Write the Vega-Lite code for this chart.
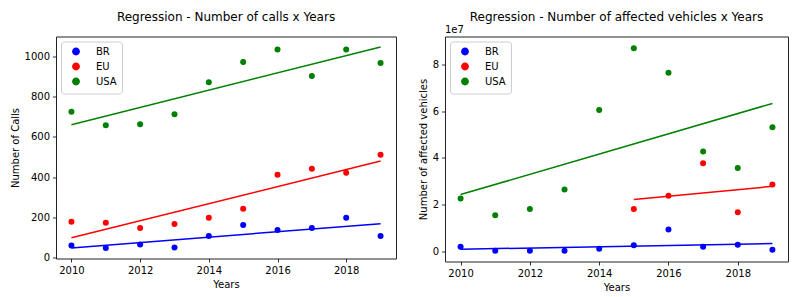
{
  "$schema": "https://vega.github.io/schema/vega-lite/v6.json",
  "padding": {"left": 9, "top": 9.5, "right": 5, "bottom": 5},
  "background": "white",
  "config": {
    "font": "DejaVu Sans",
    "view": {"stroke": "#222", "strokeWidth": 1},
    "title": {"font": "DejaVu Sans", "fontSize": 12, "fontWeight": "normal", "color": "#000", "frame": "group", "anchor": "middle"},
    "axis": {"domain": false, "grid": false, "tickColor": "#000", "tickSize": 3.5, "tickWidth": 0.8, "labelFont": "DejaVu Sans", "labelFontSize": 10, "labelColor": "#000", "titleFont": "DejaVu Sans", "titleFontSize": 10, "titleFontWeight": "normal", "titleColor": "#000", "labelPadding": 3, "titlePadding": 4},
    "legend": {"orient": "top-left", "offset": 5, "padding": 5, "symbolOffset": 5, "strokeColor": "#ccc", "fillColor": "rgba(255,255,255,0.8)", "cornerRadius": 3, "labelFont": "DejaVu Sans", "labelFontSize": 10, "labelColor": "#000", "symbolSize": 40, "symbolType": "circle", "labelOffset": 15, "rowPadding": 1}
  },
  "datasets": {
    "calls": [
      {"year": 2010, "country": "BR", "value": 60},
      {"year": 2011, "country": "BR", "value": 47},
      {"year": 2012, "country": "BR", "value": 65},
      {"year": 2013, "country": "BR", "value": 50},
      {"year": 2014, "country": "BR", "value": 107},
      {"year": 2015, "country": "BR", "value": 162},
      {"year": 2016, "country": "BR", "value": 137},
      {"year": 2017, "country": "BR", "value": 147},
      {"year": 2018, "country": "BR", "value": 198},
      {"year": 2019, "country": "BR", "value": 107},
      {"year": 2010, "country": "EU", "value": 178},
      {"year": 2011, "country": "EU", "value": 173},
      {"year": 2012, "country": "EU", "value": 147},
      {"year": 2013, "country": "EU", "value": 167},
      {"year": 2014, "country": "EU", "value": 198},
      {"year": 2015, "country": "EU", "value": 243},
      {"year": 2016, "country": "EU", "value": 412},
      {"year": 2017, "country": "EU", "value": 442},
      {"year": 2018, "country": "EU", "value": 422},
      {"year": 2019, "country": "EU", "value": 512},
      {"year": 2010, "country": "USA", "value": 725},
      {"year": 2011, "country": "USA", "value": 658},
      {"year": 2012, "country": "USA", "value": 663},
      {"year": 2013, "country": "USA", "value": 713},
      {"year": 2014, "country": "USA", "value": 872},
      {"year": 2015, "country": "USA", "value": 973},
      {"year": 2016, "country": "USA", "value": 1035},
      {"year": 2017, "country": "USA", "value": 903},
      {"year": 2018, "country": "USA", "value": 1035},
      {"year": 2019, "country": "USA", "value": 968}
    ],
    "vehicles": [
      {"year": 2010, "country": "BR", "value": 2100000},
      {"year": 2011, "country": "BR", "value": 400000},
      {"year": 2012, "country": "BR", "value": 400000},
      {"year": 2013, "country": "BR", "value": 400000},
      {"year": 2014, "country": "BR", "value": 1300000},
      {"year": 2015, "country": "BR", "value": 2800000},
      {"year": 2016, "country": "BR", "value": 9500000},
      {"year": 2017, "country": "BR", "value": 2100000},
      {"year": 2018, "country": "BR", "value": 3000000},
      {"year": 2019, "country": "BR", "value": 900000},
      {"year": 2015, "country": "EU", "value": 18200000},
      {"year": 2016, "country": "EU", "value": 23900000},
      {"year": 2017, "country": "EU", "value": 37800000},
      {"year": 2018, "country": "EU", "value": 16900000},
      {"year": 2019, "country": "EU", "value": 28700000},
      {"year": 2010, "country": "USA", "value": 22700000},
      {"year": 2011, "country": "USA", "value": 15600000},
      {"year": 2012, "country": "USA", "value": 18200000},
      {"year": 2013, "country": "USA", "value": 26600000},
      {"year": 2014, "country": "USA", "value": 60500000},
      {"year": 2015, "country": "USA", "value": 86800000},
      {"year": 2016, "country": "USA", "value": 76300000},
      {"year": 2017, "country": "USA", "value": 42800000},
      {"year": 2018, "country": "USA", "value": 35700000},
      {"year": 2019, "country": "USA", "value": 53100000}
    ]
  },
  "resolve": {"scale": {"color": "independent"}, "legend": {"color": "independent"}},
  "spacing": 20,
  "hconcat": [
    {
      "title": {"text": "Regression - Number of calls x Years", "offset": 13},
      "width": 340,
      "height": 222,
      "data": {"name": "calls"},
      "layer": [
        {
          "mark": {"type": "point", "filled": true, "size": 36, "opacity": 1},
          "encoding": {
            "x": {"field": "year", "type": "quantitative", "scale": {"domain": [2009.55, 2019.45], "nice": false, "zero": false}, "axis": {"values": [2010, 2012, 2014, 2016, 2018], "format": "d", "title": "Years"}},
            "y": {"field": "value", "type": "quantitative", "scale": {"domain": [-5, 1100], "nice": false, "zero": false}, "axis": {"values": [0, 200, 400, 600, 800, 1000], "format": "d", "title": "Number of Calls"}},
            "color": {"field": "country", "type": "nominal", "scale": {"domain": ["BR", "EU", "USA"], "range": ["#0000ff", "#ff0000", "#008000"]}, "legend": {"title": null}}
          }
        },
        {
          "transform": [{"regression": "value", "on": "year", "groupby": ["country"]}],
          "mark": {"type": "line", "strokeWidth": 1.5},
          "encoding": {
            "x": {"field": "year", "type": "quantitative"},
            "y": {"field": "value", "type": "quantitative"},
            "color": {"field": "country", "type": "nominal"}
          }
        }
      ]
    },
    {
      "title": {"text": "Regression - Number of affected vehicles x Years", "offset": 1},
      "width": 343,
      "height": 225,
      "data": {"name": "vehicles"},
      "layer": [
        {
          "mark": {"type": "point", "filled": true, "size": 36, "opacity": 1},
          "encoding": {
            "x": {"field": "year", "type": "quantitative", "scale": {"domain": [2009.55, 2019.45], "nice": false, "zero": false}, "axis": {"values": [2010, 2012, 2014, 2016, 2018], "format": "d", "title": "Years"}},
            "y": {"field": "value", "type": "quantitative", "scale": {"domain": [-4140000, 91800000], "nice": false, "zero": false}, "axis": {"values": [0, 20000000, 40000000, 60000000, 80000000], "labelExpr": "format(datum.value / 10000000, 'd')", "title": "Number of affected vehicles"}},
            "color": {"field": "country", "type": "nominal", "scale": {"domain": ["BR", "EU", "USA"], "range": ["#0000ff", "#ff0000", "#008000"]}, "legend": {"title": null}}
          }
        },
        {
          "transform": [{"regression": "value", "on": "year", "groupby": ["country"]}],
          "mark": {"type": "line", "strokeWidth": 1.5},
          "encoding": {
            "x": {"field": "year", "type": "quantitative"},
            "y": {"field": "value", "type": "quantitative"},
            "color": {"field": "country", "type": "nominal"}
          }
        },
        {
          "data": {"values": [{"label": "1e7"}]},
          "mark": {"type": "text", "align": "left", "baseline": "bottom", "dy": -2, "fontSize": 10, "font": "DejaVu Sans", "color": "#000"},
          "encoding": {
            "x": {"datum": 2009.55},
            "y": {"datum": 91800000},
            "text": {"field": "label"}
          }
        }
      ]
    }
  ]
}
